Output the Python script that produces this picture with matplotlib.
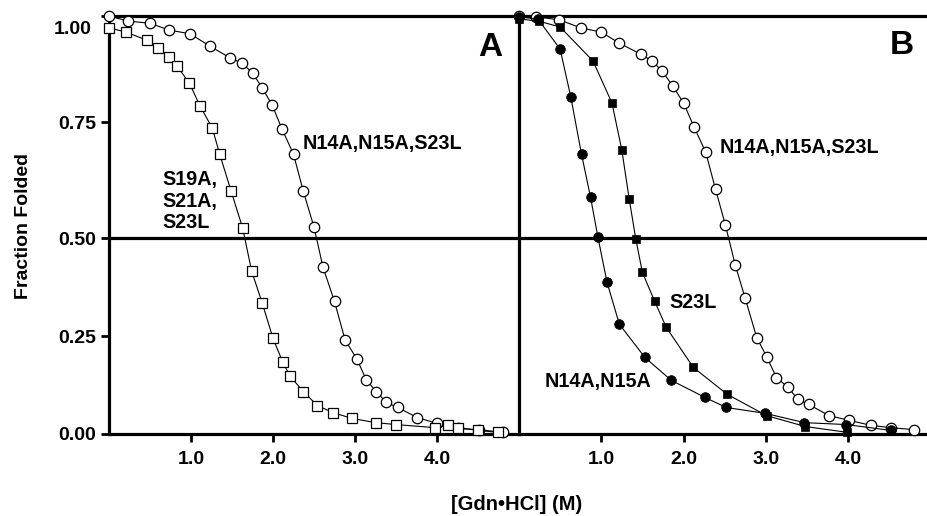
import numpy as np
import matplotlib
matplotlib.use("Agg")
import matplotlib.pyplot as plt
import matplotlib.transforms as mtransforms

plt.rcParams['font.family'] = ['Liberation Sans', 'DejaVu Sans']
plt.rcParams['font.weight'] = 'bold'

# ---------------- data ----------------
# Panel A
a_circ_x = [0.0, 0.23, 0.50, 0.73, 0.99, 1.23, 1.48, 1.62, 1.75, 1.87, 1.99, 2.11, 2.25, 2.37,
            2.50, 2.61, 2.75, 2.88, 3.02, 3.14, 3.26, 3.38, 3.52, 3.76, 4.00, 4.25, 4.51, 4.80]
a_circ_y = [1.0, 0.988, 0.983, 0.967, 0.958, 0.929, 0.901, 0.889, 0.866, 0.830, 0.790, 0.735,
            0.681, 0.601, 0.524, 0.426, 0.339, 0.240, 0.193, 0.137, 0.108, 0.080, 0.067, 0.041,
            0.026, 0.013, 0.010, 0.003]
a_sq_x = [0.0, 0.21, 0.46, 0.60, 0.73, 0.83, 0.98, 1.11, 1.26, 1.35, 1.49, 1.63, 1.74, 1.87,
          2.00, 2.12, 2.21, 2.37, 2.54, 2.73, 2.96, 3.25, 3.50, 3.98, 4.14, 4.25, 4.50, 4.74]
a_sq_y = [0.972, 0.962, 0.943, 0.925, 0.903, 0.882, 0.842, 0.788, 0.737, 0.681, 0.601, 0.522,
          0.416, 0.334, 0.245, 0.183, 0.147, 0.108, 0.072, 0.054, 0.039, 0.028, 0.023, 0.015,
          0.021, 0.015, 0.008, 0.003]
# Panel B
b_circ_x = [0.0, 0.21, 0.49, 0.75, 1.00, 1.22, 1.48, 1.62, 1.74, 1.87, 2.00, 2.13, 2.27, 2.39,
            2.51, 2.63, 2.75, 2.89, 3.01, 3.13, 3.27, 3.39, 3.52, 3.77, 4.01, 4.28, 4.52, 4.80]
b_circ_y = [1.0, 0.998, 0.991, 0.972, 0.962, 0.936, 0.910, 0.894, 0.870, 0.835, 0.795, 0.739,
            0.685, 0.605, 0.528, 0.431, 0.347, 0.247, 0.198, 0.144, 0.119, 0.088, 0.075, 0.046,
            0.034, 0.021, 0.015, 0.010]
b_sq_x = [0.0, 0.24, 0.50, 0.90, 1.13, 1.25, 1.34, 1.42, 1.50, 1.65, 1.79, 2.12, 2.53, 3.01, 3.48, 3.99]
b_sq_y = [0.993, 0.988, 0.974, 0.894, 0.795, 0.690, 0.584, 0.498, 0.413, 0.339, 0.273, 0.170,
          0.101, 0.046, 0.018, 0.003]
b_fc_x = [0.0, 0.23, 0.50, 0.63, 0.76, 0.87, 0.96, 1.07, 1.22, 1.53, 1.85, 2.26, 2.52, 2.99, 3.47, 3.98, 4.52]
b_fc_y = [0.998, 0.993, 0.922, 0.809, 0.681, 0.588, 0.502, 0.388, 0.281, 0.196, 0.137, 0.093,
          0.067, 0.052, 0.028, 0.023, 0.008]

x_ticks = [1.0, 2.0, 3.0, 4.0]
x_ticklabels = ['1.0', '2.0', '3.0', '4.0']
y_ticks = [0.0, 0.25, 0.50, 0.75, 1.00]
y_ticklabels = ['0.00', '0.25', '0.50', '0.75', '1.00']

label_a_sq = ['S19A,', 'S21A,', 'S23L']
label_a_circ = 'N14A,N15A,S23L'
label_b_circ = 'N14A,N15A,S23L'
label_b_sq = 'S23L'
label_b_fc = 'N14A,N15A'
xlabel = '[Gdn\u2022HCl] (M)'
ylabel = 'Fraction Folded'

# ---------------- layout ----------------
W, H = 927, 516
fig = plt.figure(figsize=(W / 100, H / 100), dpi=100)


def fx(x):
    return x / W


def fy(y):
    return 1 - y / H


# the reference's y ticks are unevenly spaced (scan); reproduce with a piecewise scale
_yv = np.array([0.0, 0.25, 0.5, 0.75, 1.0])
_yp = np.array([0.0, 97.0, 195.0, 311.0, 417.0])


def fwd(v):
    v = np.asarray(v, dtype=float)
    out = np.interp(v, _yv, _yp)
    out = np.where(v < 0, v * 97.0 / 0.25, out)
    out = np.where(v > 1, 417.0 + (v - 1) * 106.0 / 0.25, out)
    return out


def inv(p):
    p = np.asarray(p, dtype=float)
    out = np.interp(p, _yp, _yv)
    out = np.where(p < 0, p * 0.25 / 97.0, out)
    out = np.where(p > 417, 1 + (p - 417.0) * 0.25 / 106.0, out)
    return out


bottom = fy(433.5)
top = fy(16)
axA = fig.add_axes([fx(109), bottom, fx(519) - fx(109), top - bottom])
axB = fig.add_axes([fx(519), bottom, 1 - fx(519), top - bottom])

SPW = 2.3
for ax, xmax in ((axA, 5.0), (axB, 4.96)):
    ax.set_yscale('function', functions=(fwd, inv))
    ax.set_ylim(0, 1.0)
    ax.set_xlim(0, xmax)
    ax.set_xticks(x_ticks)
    ax.set_xticklabels(x_ticklabels)
    ax.axhline(0.5, color='black', lw=SPW, zorder=1)
    for s in ax.spines.values():
        s.set_linewidth(SPW)
    ax.spines['right'].set_visible(False)
    ax.tick_params(axis='x', direction='out', length=5.5, width=2.0, labelsize=14, pad=7)
    ax.patch.set_alpha(0)
    ax.minorticks_off()

axA.set_yticks(y_ticks)
axA.set_yticklabels(y_ticklabels)
axA.tick_params(axis='y', direction='out', length=5.5, width=2.0, labelsize=14, pad=4)
axB.tick_params(axis='y', left=False, labelleft=False)
axB.set_yticks([])
axB.minorticks_off()

line_kw = dict(color='black', lw=0.8, clip_on=False)
# Panel A
axA.plot(a_circ_x, a_circ_y, marker='o', ms=7.5, mfc='white', mec='black', mew=0.9, zorder=3, **line_kw)
axA.plot(a_sq_x, a_sq_y, marker='s', ms=7.2, mfc='white', mec='black', mew=0.9, zorder=4, **line_kw)
# Panel B
axB.plot(b_circ_x, b_circ_y, marker='o', ms=7.5, mfc='white', mec='black', mew=0.9, zorder=3, **line_kw)
axB.plot(b_sq_x, b_sq_y, marker='s', ms=5.8, mfc='black', mec='black', mew=0.5, zorder=4, **line_kw)
axB.plot(b_fc_x, b_fc_y, marker='o', ms=7.0, mfc='black', mec='black', mew=0.5, zorder=5, **line_kw)

# offset the "1.00" label as in the reference
lab = axA.get_yticklabels()[-1]
lab.set_transform(lab.get_transform() + mtransforms.ScaledTranslation(-4 / 100, -12 / 100, fig.dpi_scale_trans))

fs = 14.2
for i, t in enumerate(label_a_sq):
    fig.text(fx(162), fy(180 + 21.5 * i), t, fontsize=fs, fontweight='bold', ha='left', va='center')
fig.text(fx(303), fy(143.5), label_a_circ, fontsize=fs, fontweight='bold', ha='left', va='center')
fig.text(fx(720), fy(147), label_b_circ, fontsize=fs, fontweight='bold', ha='left', va='center')
fig.text(fx(669), fy(302), label_b_sq, fontsize=fs, fontweight='bold', ha='left', va='center')
fig.text(fx(545), fy(382), label_b_fc, fontsize=fs, fontweight='bold', ha='left', va='center')

fig.text(fx(490), fy(48), 'A', fontsize=24, fontweight='bold', ha='center', va='center')
fig.text(fx(902), fy(46), 'B', fontsize=24, fontweight='bold', ha='center', va='center')

fig.text(fx(517), fy(505), xlabel, fontsize=14.5, fontweight='bold', ha='center', va='center')
fig.text(fx(24), fy(226), ylabel, fontsize=14, fontweight='bold', ha='center', va='center', rotation=90)

fig.savefig('out.png', dpi=100)
